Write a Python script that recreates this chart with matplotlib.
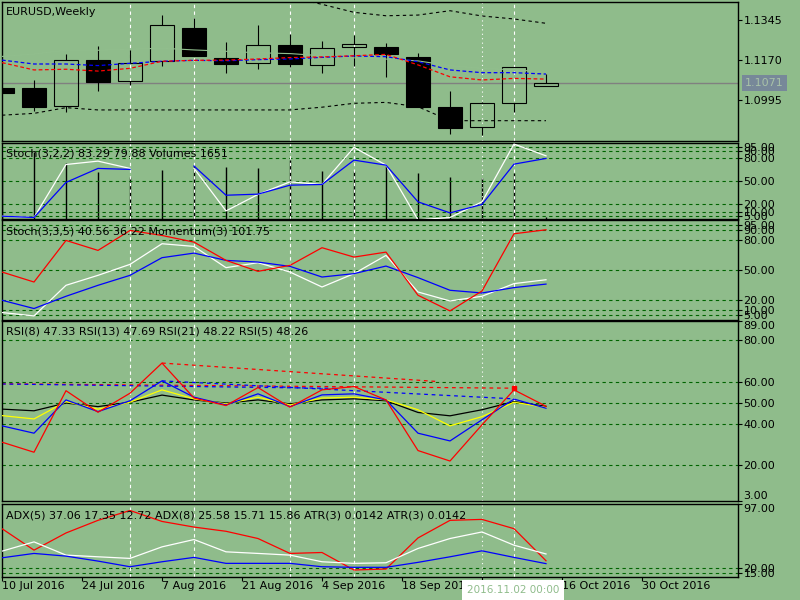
import matplotlib
matplotlib.use("Agg")
import matplotlib.pyplot as plt
import numpy as np

BG = '#8fbc8b'
LEVEL = '#006400'

# weekly EURUSD candles, one per bar (bar 0 = 10 Jul 2016)
opens = [1.1048, 1.1048, 1.0969, 1.1170, 1.1078, 1.1168, 1.1311, 1.1179, 1.1157,
         1.1236, 1.1148, 1.1227, 1.1228, 1.1185, 1.0965, 1.0877, 1.0982, 1.1056]
highs = [1.1050, 1.1084, 1.1198, 1.1233, 1.1215, 1.1368, 1.1355, 1.1249, 1.1325,
         1.1285, 1.1253, 1.1281, 1.1246, 1.1201, 1.1037, 1.0986, 1.1141, 1.1110]
lows = [1.1026, 1.0950, 1.0945, 1.1037, 1.1062, 1.1147, 1.1189, 1.1116, 1.1132,
        1.1142, 1.1116, 1.1147, 1.1098, 1.0966, 1.0848, 1.0845, 1.0945, 1.1056]
closes = [1.1028, 1.0967, 1.1170, 1.1077, 1.1157, 1.1323, 1.1190, 1.1153, 1.1236,
          1.1153, 1.1223, 1.1240, 1.1199, 1.0967, 1.0875, 1.0982, 1.1140, 1.1071]

ma_blue = [1.1171, 1.1154, 1.1154, 1.1147, 1.1157, 1.1166, 1.1170, 1.1168, 1.1173,
           1.1176, 1.1183, 1.1189, 1.1186, 1.1164, 1.1128, 1.1116, 1.1116, 1.1110]
ma_red = [1.1160, 1.1128, 1.1131, 1.1123, 1.1135, 1.1166, 1.1170, 1.1171, 1.1176,
          1.1182, 1.1185, 1.1190, 1.1196, 1.1150, 1.1098, 1.1084, 1.1091, 1.1088]
band_up = [1.1444, 1.1457, 1.1466, 1.1475, 1.1484, 1.1493, 1.1478, 1.1466, 1.1453,
           1.1446, 1.1415, 1.1380, 1.1365, 1.1368, 1.1387, 1.1364, 1.1351, 1.1332]
band_dn = [1.0930, 1.0938, 1.0963, 1.0953, 1.0953, 1.0953, 1.0953, 1.0953, 1.0953,
           1.0953, 1.0965, 1.0982, 1.0986, 1.0967, 1.0906, 1.0906, 1.0906, 1.0906]

price_ticks = [1.1345, 1.1170, 1.0995]
last_price = 1.1071

# Stoch(3,2,2) + Volumes
stoch1_main = [4.7, 3, 72, 76.4, 66.9, np.nan, 67, 11.6, 33, 49.4, 46, 94.3, 71.2, 0, 3, 23.4, 98.6, 83.29]
stoch1_sig = [4.7, 3, 48.7, 66.9, 65.6, np.nan, 70, 32, 33.4, 45.1, 46, 77.7, 71.2, 23.4, 9, 20, 72.5, 79.88]
volumes = [60000, 66600, 55000, 46300, 41600, 48300, 53300, 51000, 50000,
           58300, 47300, 47300, 52600, 45000, 41600, 40000, 45600, 1651]
stoch_levels = [95, 90, 80, 50, 20, 10, 5]

# Stoch(3,3,5) + Momentum(3)
stoch2_main = [7.7, 4.3, 35, 45, 56, 76.7, 74, 52.7, 57.7, 48.3, 33.3, 46.7, 65, 28.3, 19.3, 24, 36.7, 40.56]
stoch2_sig = [20, 11.7, 24, 35, 45, 62.7, 67.3, 60, 58.3, 54, 43.3, 46.7, 54.3, 42.7, 30, 27.3, 32.7, 36.22]
momentum = [48.3, 38.3, 80, 70, 90, 85, 78.3, 60, 49, 55, 72.7, 63.3, 68.3, 25, 9.3, 29.3, 86.7, 90.7]

# RSI
rsi8 = [38.9, 35.4, 51.3, 45.7, 50.9, 60.4, 52.6, 48.9, 54.2, 48.1, 53.7, 54.2, 51.3, 35.4, 31.7, 41.8, 51.7, 47.33]
rsi13 = [43.8, 42.2, 50.5, 46.9, 50.2, 56.1, 51.8, 49.4, 52.6, 48.9, 52.2, 52.6, 51.3, 46.6, 38.9, 43.3, 50.2, 47.69]
rsi21 = [46.9, 46.1, 49.8, 48.1, 50.2, 53.6, 51.3, 49.8, 51.3, 49.4, 51.3, 51.8, 50.9, 45.3, 43.7, 46.6, 50.5, 48.22]
rsi5 = [31.1, 26.3, 55.7, 45.4, 54.5, 68.9, 52.2, 48.6, 57.2, 47.8, 56.1, 57.7, 51.3, 27.1, 22.1, 39.4, 56.1, 48.26]
rsi_levels = [80, 60, 50, 40, 20]
# dashed trend lines on RSI: (bar0, val0, bar1, val1, colour)
rsi_trends = [(5, 68.9, 13.6, 60.1, 'red'),
              (0, 59.0, 16, 56.9, 'red'),
              (0, 58.9, 10.5, 56.8, 'blue'),
              (5, 60.4, 16, 51.8, 'blue')]

# ADX / ATR
adx_red = [67.1, 41.6, 62, 77, 88.7, 75.7, 69, 64, 55.4, 37.7, 38.8, 18, 19.2, 56.1, 77, 78.1, 67.1, 29]
adx_white = [40.4, 51.4, 35.7, 33.7, 31.8, 45.5, 54.2, 39.6, 37.7, 35.7, 27.8, 25.9, 26.6, 43.6, 55.4, 63.2, 47.5, 37.06]
adx_blue = [32.5, 37.7, 34.5, 28.6, 21.9, 27.8, 33, 25.9, 25.9, 25.9, 21.9, 21.2, 21.2, 27.1, 33.7, 40.8, 33, 25.58]
adx_levels = [20, 15]

grid_bars = [4, 6, 9, 11, 16]
cursor_bar = 15
date_pos = [0, 2.5, 5, 7.5, 10, 12.5, 15, 17.5, 20]
date_labels = ['10 Jul 2016', '24 Jul 2016', '7 Aug 2016', '21 Aug 2016', '4 Sep 2016',
               '18 Sep 2016', '2 Oct 2016', '16 Oct 2016', '30 Oct 2016']

x = np.arange(len(opens))
plt.rcParams['font.family'] = 'DejaVu Sans'
fig = plt.figure(figsize=(8, 6), dpi=100, facecolor=BG)


def right_ticks(ax):
    ax.yaxis.tick_right()
    ax.tick_params(axis='y', direction='out', length=3, width=0.8, pad=1, labelsize=8, colors='black')
    ax.tick_params(axis='x', bottom=False, labelbottom=False)


def panel(top, bottom):
    ax = fig.add_axes([2 / 800, 1 - bottom / 600, 736 / 800, (bottom - top) / 600])
    ax.set_facecolor(BG)
    ax.set_xlim(0, 23)
    for s in ax.spines.values():
        s.set_color('black')
        s.set_linewidth(1)
    right_ticks(ax)
    for b in grid_bars:
        ax.axvline(b, color='white', ls=(0, (3, 3)), lw=0.8, zorder=1)
    ax.axvline(cursor_bar, color='white', ls=(0, (1, 3)), lw=0.8, zorder=1)
    return ax


def levels(ax, vals):
    for v in vals:
        ax.axhline(v, color=LEVEL, ls=(0, (3, 3)), lw=0.8, zorder=0.8)


edge_x = (743 - 2) / 736

# ---- main price panel
ax1 = panel(2, 141)
ax1.set_ylim(1.08171, 1.14252)
o, h, l, c = map(np.array, (opens, highs, lows, closes))
top_b = np.maximum(o, c)
bot_b = np.minimum(o, c)
ax1.axhline(last_price, color='#808080', lw=1, zorder=1.5)
ax1.plot(x, band_up, color='black', ls=(0, (3, 3)), lw=0.8, zorder=2)
ax1.plot(x, band_dn, color='black', ls=(0, (3, 3)), lw=0.8, zorder=2)
ax1.vlines(x, top_b, h, color='black', lw=0.8, zorder=3)
ax1.vlines(x, l, bot_b, color='black', lw=0.8, zorder=3)
face = ['none' if cc >= oo else 'black' for oo, cc in zip(opens, closes)]
ax1.bar(x, np.maximum(top_b - bot_b, 0.00004), bottom=bot_b, width=0.72,
        color=face, edgecolor='black', linewidth=0.8, zorder=4)
mid = (np.array(band_up) + np.array(band_dn)) / 2
ax1.plot(x, mid, color='#91be8d', lw=0.8, zorder=5)
ax1.plot(x, ma_blue, color='blue', ls=(0, (3, 2)), lw=0.9, zorder=6)
ax1.plot(x, ma_red, color='red', ls=(0, (3, 2)), lw=0.9, zorder=6)
ax1.set_yticks(price_ticks)
ax1.set_yticklabels(['%.4f' % p for p in price_ticks])
ax1.text(1.0095, last_price, '1.1071', transform=ax1.get_yaxis_transform(),
         ha='left', va='center', fontsize=8, color='#a8c2a8',
         bbox=dict(boxstyle='square,pad=0.25', fc='#778899', ec='none'))

# ---- Stoch(3,2,2) + Volumes
ax2 = panel(143, 218.5)
axv = ax2.twinx()
axv.set_ylim(0, 75300)
axv.vlines(x, 0, volumes, color='black', lw=1)
axv.yaxis.set_visible(False)
for s in axv.spines.values():
    s.set_visible(False)
ax2.set_zorder(axv.get_zorder() + 1)
ax2.patch.set_visible(False)
right_ticks(ax2)
ax2.set_ylim(1.7, 100)
levels(ax2, stoch_levels)
ax2.plot(x, stoch1_main, color='white', lw=0.9, zorder=3)
ax2.plot(x, stoch1_sig, color='blue', lw=0.9, zorder=3)
ax2.set_yticks(stoch_levels)
ax2.set_yticklabels(['%.2f' % v for v in stoch_levels])

# ---- Stoch(3,3,5) + Momentum
ax3 = panel(220.5, 319.5)
ax3.set_ylim(0.7, 100)
levels(ax3, stoch_levels)
ax3.plot(x, stoch2_main, color='white', lw=0.9, zorder=3)
ax3.plot(x, stoch2_sig, color='blue', lw=0.9, zorder=3)
ax3.plot(x, momentum, color='red', lw=0.9, zorder=3)
ax3.set_yticks(stoch_levels)
ax3.set_yticklabels(['%.2f' % v for v in stoch_levels])

# ---- RSI
ax4 = panel(321, 501)
ax4.set_ylim(3, 89)
levels(ax4, rsi_levels)
for x0, y0, x1, y1, col in rsi_trends:
    ax4.plot([x0, x1], [y0, y1], color=col, ls=(0, (3, 3)), lw=0.9, zorder=2)
ax4.plot([16], [56.9], marker='s', ms=2.5, color='red', zorder=2)
ax4.plot(x, rsi21, color='black', lw=0.9, zorder=3)
ax4.plot(x, rsi13, color='yellow', lw=0.9, zorder=3)
ax4.plot(x, rsi8, color='blue', lw=0.9, zorder=3)
ax4.plot(x, rsi5, color='red', lw=0.9, zorder=3)
ax4.set_yticks([89] + rsi_levels + [3])
ax4.set_yticklabels([''] + ['%.2f' % v for v in rsi_levels] + [''])
ax4.text(edge_x, 89, '89.00', transform=ax4.get_yaxis_transform(), ha='left', va='top', fontsize=8)
ax4.text(edge_x, 3, '3.00', transform=ax4.get_yaxis_transform(), ha='left', va='bottom', fontsize=8)

# ---- ADX / ATR
ax5 = panel(503.5, 576.5)
ax5.set_ylim(10.3, 97)
levels(ax5, adx_levels)
ax5.plot(x, adx_red, color='red', lw=0.9, zorder=3)
ax5.plot(x, adx_white, color='white', lw=0.9, zorder=3)
ax5.plot(x, adx_blue, color='blue', lw=0.9, zorder=3)
ax5.set_yticks([97] + adx_levels)
ax5.set_yticklabels([''] + ['%.2f' % v for v in adx_levels])
ax5.text(edge_x, 97, '97.00', transform=ax5.get_yaxis_transform(), ha='left', va='top', fontsize=8)
ax5.set_xticks(date_pos)
ax5.set_xticklabels(date_labels, ha='left')
ax5.tick_params(axis='x', bottom=True, labelbottom=True, direction='out',
                length=3.2, width=0.8, pad=0, labelsize=8)

# ---- indicator captions
captions = [(12, 'EURUSD,Weekly'),
            (154, 'Stoch(3,2,2) 83.29 79.88 Volumes 1651'),
            (231, 'Stoch(3,3,5) 40.56 36.22 Momentum(3) 101.75'),
            (332, 'RSI(8) 47.33 RSI(13) 47.69 RSI(21) 48.22 RSI(5) 48.26'),
            (515, 'ADX(5) 37.06 17.35 12.72 ADX(8) 25.58 15.71 15.86 ATR(3) 0.0142 ATR(3) 0.0142')]
for ypx, txt in captions:
    fig.text(6 / 800, 1 - ypx / 600, txt, ha='left', va='center', fontsize=8, color='black')

fig.text(513 / 800, 1 - 590 / 600, '2016.11.02 00:00', ha='center', va='center',
         fontsize=7.5, color=BG, bbox=dict(boxstyle='square,pad=0.5', fc='white', ec='none'))

fig.savefig('out.png', dpi=100, facecolor=BG)
